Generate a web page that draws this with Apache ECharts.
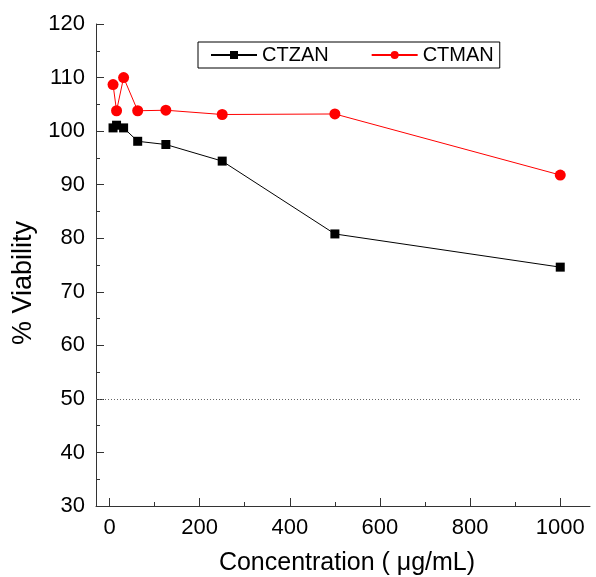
<!DOCTYPE html>
<html>
<head>
<meta charset="utf-8">
<script src="https://cdn.jsdelivr.net/npm/echarts@6/dist/echarts.min.js"></script>
<style>
  html, body { margin: 0; padding: 0; background: #fff; }
  #chart { width: 596px; height: 577px; }
</style>
</head>
<body>
<div id="chart"></div>
<script>
// concentrations (µg/mL)
const concentrations = [7.8, 15.6, 31.25, 62.5, 125, 250, 500, 1000]
// % viability
const ctzan = [100.6, 101.1, 100.6, 98.1, 97.5, 94.4, 80.8, 74.6]
const ctman = [108.7, 103.8, 110.0, 103.8, 103.9, 103.1, 103.2, 91.8]
const cutoff = 50
const xTicks = [0, 200, 400, 600, 800, 1000]
const xMinorTicks = [100, 300, 500, 700, 900]

const font = 'Liberation Sans, Arial, sans-serif'
const axisColor = '#333'

const pairs = (ys) => concentrations.map((x, i) => [x, ys[i]])

const chart = echarts.init(document.getElementById('chart'))

chart.setOption({
  animation: false,
  textStyle: { fontFamily: font },
  legend: {
    top: 42,
    left: 198,
    itemWidth: 46,
    itemHeight: 10,
    itemGap: 42,
    padding: [3, 6, 3, 12],
    borderColor: '#000',
    borderWidth: 1,
    textStyle: { fontSize: 20, color: '#000', fontFamily: font },
    data: ['CTZAN', 'CTMAN']
  },
  grid: {
    left: 96,
    top: 24,
    right: 6,
    bottom: 71,
    outerBoundsMode: 'none'
  },
  xAxis: [{
    type: 'value',
    position: 'bottom',
    min: -30,
    max: 1066,
    name: 'Concentration ( μg/mL)',
    nameLocation: 'middle',
    nameGap: 45,
    nameTextStyle: { fontSize: 25, color: '#000', fontFamily: font, padding: [0, 0, 0, 8] },
    axisLine: { onZero: false, lineStyle: { color: axisColor, width: 1 } },
    axisTick: { inside: true, length: 8, customValues: xTicks, lineStyle: { color: axisColor } },
    axisLabel: {
      fontSize: 22, color: '#000', margin: 11, customValues: xTicks,
      formatter: (v) => String(v)
    },
    splitLine: { show: false }
  }, {
    // minor ticks only
    type: 'value',
    position: 'bottom',
    min: -30,
    max: 1066,
    axisLine: { show: false, onZero: false },
    axisTick: { inside: true, length: 4, customValues: xMinorTicks, lineStyle: { color: axisColor } },
    axisLabel: { show: false },
    splitLine: { show: false }
  }],
  yAxis: {
    type: 'value',
    min: 30,
    max: 120,
    interval: 10,
    name: '% Viability',
    nameLocation: 'middle',
    nameGap: 55,
    nameTextStyle: { fontSize: 27, color: '#000', fontFamily: font, padding: [0, 36, 0, 0] },
    axisLine: { show: true, onZero: false, lineStyle: { color: axisColor, width: 1 } },
    axisTick: { show: true, inside: true, length: 8, lineStyle: { color: axisColor } },
    minorTick: { show: true, splitNumber: 2, length: 4, lineStyle: { color: axisColor } },
    axisLabel: { fontSize: 22, color: '#000', margin: 11 },
    splitLine: { show: false }
  },
  series: [
    {
      name: 'CTZAN',
      type: 'line',
      xAxisIndex: 0,
      data: pairs(ctzan),
      symbol: 'rect',
      symbolSize: 9,
      color: '#000',
      lineStyle: { color: '#000', width: 1 },
      itemStyle: { color: '#000' },
      markLine: {
        silent: true,
        symbol: 'none',
        label: { show: false },
        lineStyle: { color: '#666', type: [1, 2], width: 1 },
        data: [[{ coord: [-30, cutoff] }, { coord: [1047, cutoff] }]]
      }
    },
    {
      name: 'CTMAN',
      type: 'line',
      xAxisIndex: 0,
      data: pairs(ctman),
      symbol: 'circle',
      symbolSize: 11,
      color: '#ff0000',
      lineStyle: { color: '#ff0000', width: 1 },
      itemStyle: { color: '#ff0000' }
    }
  ]
})
</script>
</body>
</html>
